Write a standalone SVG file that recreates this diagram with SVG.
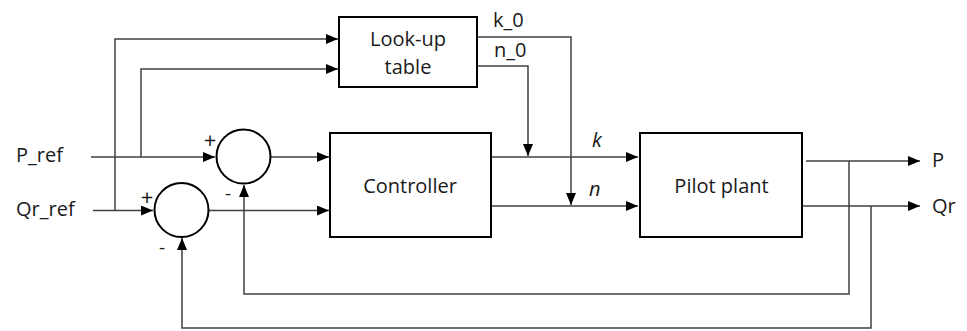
<svg xmlns="http://www.w3.org/2000/svg" width="967" height="331" viewBox="0 0 967 331">
<style>
.blk{fill:#fff;stroke:#000;stroke-width:2}
.ln{fill:none;stroke:#404040;stroke-width:1.5}
.t{font-family:"Open Sans","Liberation Sans",Arial,sans-serif;font-size:19px;fill:#1a1a1a}
.b{font-size:20px}
.s{font-size:22px}
.c{text-anchor:middle}
.i{font-style:italic}
</style>
<defs>
<marker id="a" viewBox="0 0 12 10" refX="12" refY="5" markerWidth="12" markerHeight="10" markerUnits="userSpaceOnUse" orient="auto">
<path d="M0,0 L12,5 L0,10 Z" fill="#000"/>
</marker>
</defs>
<g id="connectors">
<path class="ln" d="M115,210.5 V39 H338" marker-end="url(#a)"/>
<path class="ln" d="M141,157 V69 H338" marker-end="url(#a)"/>
<path class="ln" d="M91,157 H215" marker-end="url(#a)"/>
<path class="ln" d="M93,210.5 H153" marker-end="url(#a)"/>
<path class="ln" d="M271,157 H329" marker-end="url(#a)"/>
<path class="ln" d="M209,210.5 H329" marker-end="url(#a)"/>
<path class="ln" d="M491,157 H638" marker-end="url(#a)"/>
<path class="ln" d="M491,206 H638" marker-end="url(#a)"/>
<path class="ln" d="M477,37 H571 V205" marker-end="url(#a)"/>
<path class="ln" d="M477,66 H528 V156" marker-end="url(#a)"/>
<path class="ln" d="M806,161 H920" marker-end="url(#a)"/>
<path class="ln" d="M802,206 H920" marker-end="url(#a)"/>
<path class="ln" d="M849,161 V294 H244 V185" marker-end="url(#a)"/>
<path class="ln" d="M871,206 V328 H182 V238" marker-end="url(#a)"/>
</g>
<g id="sum1">
<circle class="blk" cx="243.5" cy="156.5" r="27"/>
<text class="t s c" x="210" y="148">+</text>
<text class="t c" x="228" y="200">-</text>
</g>
<g id="sum2">
<circle class="blk" cx="181.5" cy="210" r="27"/>
<text class="t s c" x="147" y="205">+</text>
<text class="t c" x="162" y="254">-</text>
</g>
<g id="lookup">
<rect class="blk" x="339" y="17" width="138" height="70"/>
<text class="t b c" x="408" y="46">Look-up</text>
<text class="t b c" x="408" y="74">table</text>
</g>
<g id="controller">
<rect class="blk" x="330" y="133" width="161" height="104"/>
<text class="t b c" x="410" y="193">Controller</text>
</g>
<g id="plant">
<rect class="blk" x="640" y="133" width="162" height="104"/>
<text class="t b c" x="721.5" y="193">Pilot plant</text>
</g>
<g id="labels">
<text class="t b" x="16" y="162">P_ref</text>
<text class="t b" x="16" y="216">Qr_ref</text>
<text class="t b" x="493" y="27">k_0</text>
<text class="t b" x="494" y="57">n_0</text>
<text class="t b i" x="592" y="147">k</text>
<text class="t b i" x="589" y="196">n</text>
<text class="t b" x="932" y="167">P</text>
<text class="t b" x="932" y="213">Qr</text>
</g>
</svg>
